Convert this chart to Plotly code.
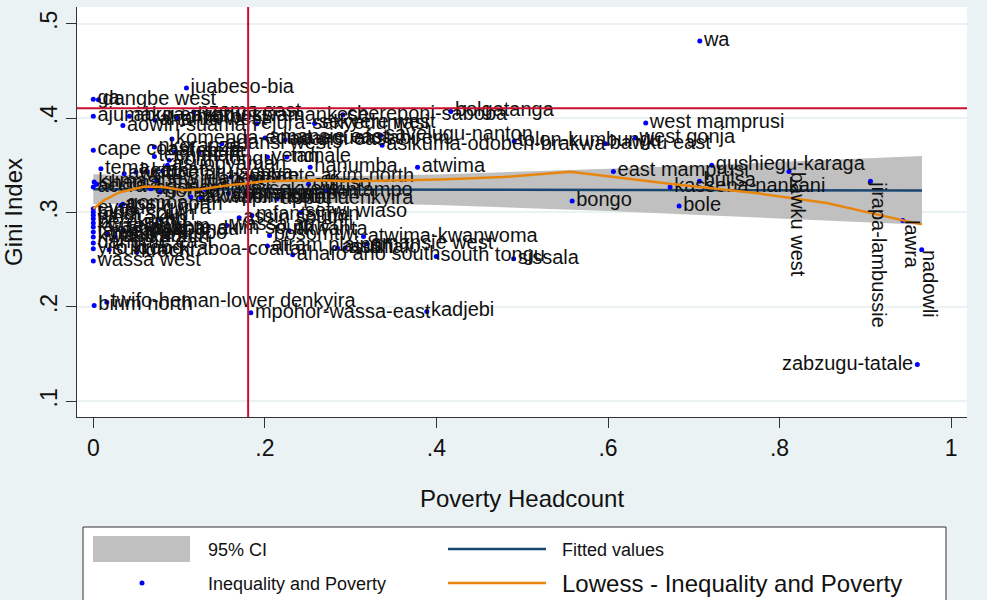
import plotly.graph_objects as go

# District-level poverty headcount vs Gini index
districts = [
    "wa", "juabeso-bia", "ga", "dangbe west", "ajumako-enyan-essiam",
    "abura-asebu-kwamankese", "ahanta west", "jomoro", "nzema east", "aowin-suaman",
    "ejura-sekyedumasi", "sekyere west", "chereponi-saboba", "bolgatanga", "west mamprusi",
    "west gonja", "bawku east", "tolon-kumbungu", "savelugu-nanton", "asikuma-odoben-brakwa",
    "komenda-edina-eguafo-abirem", "adansi west", "amansie east", "adansi east", "cape coast",
    "nkoranza", "techiman", "atebubu", "sene", "north tongu",
    "yendi", "tamale", "tema", "asuogyaman", "nanumba",
    "atwima", "awutu-efutu-senya", "ketu", "keta", "akatsi",
    "kwabre", "asante akim north", "accra", "kumasi", "shama ahanta east",
    "new juaben", "agona", "hohoe", "afigya-sekyere", "offinso",
    "kintampo", "ejisu-juaben", "east akim", "akwapim north", "akwapim south",
    "upper denkyira", "evalue-gwira", "gomoa", "assin north", "tano",
    "birim south", "west akim", "berekum", "kwaebibirem", "fanteakwa",
    "kwahu south", "dangme east", "yilo krobo", "wassa west", "sefwi wiaso",
    "mfantsiman", "assin south", "ho", "wassa amenfi", "asante akim south",
    "obuasi", "kpandu", "manya krobo", "jasikan", "nkwanta",
    "bosomtwi", "atwima-kwanwoma", "afram plains", "suhum-kraboa-coaltar", "krachi",
    "ahafo ano south", "asutifi", "asunafo", "amansie west", "south tongu",
    "sissala", "twifo-heman-lower denkyira", "birim north", "mpohor-wassa-east", "kadjebi",
    "zabzugu-tatale", "nadowli", "lawra", "jirapa-lambussie", "bawku west",
    "kassena-nankani", "builsa", "gushiegu-karaga", "east mamprusi", "bongo",
    "bole",
]
poverty = [
    0.707, 0.1086, 0.000, 0.006, 0.000,
    0.042, 0.072, 0.097, 0.117, 0.0345,
    0.1907, 0.258, 0.291, 0.4167, 0.644,
    0.632, 0.597, 0.4906, 0.3352, 0.3367,
    0.0917, 0.1497, 0.2003, 0.2237, 0.000,
    0.0712, 0.0712, 0.095, 0.1234, 0.0885,
    0.203, 0.2256, 0.0089, 0.0865, 0.2528,
    0.378, 0.036, 0.0497, 0.063, 0.0807,
    0.1604, 0.184, 0.000, 0.001, 0.004,
    0.0741, 0.0671, 0.078, 0.1304, 0.2509,
    0.2729, 0.1797, 0.1576, 0.1137, 0.1254,
    0.214, 0.000, 0.0345, 0.032, 0.000,
    0.000, 0.000, 0.000, 0.000, 0.000,
    0.000, 0.000, 0.000, 0.000, 0.2417,
    0.1849, 0.170, 0.0788, 0.1557, 0.0632,
    0.0352, 0.0888, 0.0165, 0.0255, 0.2282,
    0.2054, 0.315, 0.203, 0.0185, 0.0508,
    0.2325, 0.2846, 0.2936, 0.3189, 0.3998,
    0.490, 0.0158, 0.001, 0.1836, 0.3888,
    0.9606, 0.9657, 0.9436, 0.906, 0.811,
    0.6724, 0.7066, 0.7209, 0.6063, 0.5582,
    0.6829,
]
gini = [
    0.4816, 0.4318, 0.4198, 0.4195, 0.4018,
    0.4018, 0.3976, 0.4004, 0.4064, 0.392,
    0.394, 0.3943, 0.4036, 0.407, 0.3947,
    0.379, 0.3729, 0.3753, 0.3817, 0.3711,
    0.3778, 0.3729, 0.3788, 0.3771, 0.3658,
    0.3693, 0.3594, 0.364, 0.364, 0.3553,
    0.3587, 0.3587, 0.3464, 0.350, 0.348,
    0.348, 0.3411, 0.3427, 0.3433, 0.3438,
    0.3375, 0.3375, 0.327, 0.3322, 0.3298,
    0.334, 0.3252, 0.3216, 0.3242, 0.3298,
    0.3227, 0.320, 0.320, 0.3163, 0.3153,
    0.3146, 0.304, 0.3086, 0.3075, 0.3005,
    0.297, 0.2934, 0.2888, 0.2845, 0.2792,
    0.274, 0.2676, 0.2617, 0.2485, 0.300,
    0.2969, 0.2945, 0.2924, 0.2863, 0.2828,
    0.281, 0.281, 0.2775, 0.274, 0.281,
    0.2757, 0.2745, 0.2645, 0.2606, 0.258,
    0.2553, 0.2623, 0.2623, 0.267, 0.2535,
    0.251, 0.205, 0.2016, 0.1938, 0.1952,
    0.139, 0.2606, 0.2916, 0.333, 0.3435,
    0.327, 0.333, 0.3499, 0.3435, 0.3121,
    0.3068,
]

# Linear fit with 95% confidence band
ci_x = [0.0, 0.1, 0.2, 0.3, 0.4, 0.5, 0.6, 0.7, 0.8, 0.9, 0.966]
ci_lo = [0.3088, 0.3105, 0.3109, 0.3100, 0.3079, 0.3050, 0.3015, 0.2977, 0.2938, 0.2897, 0.2869]
ci_hi = [0.3404, 0.3385, 0.3377, 0.3385, 0.3403, 0.3430, 0.3462, 0.3497, 0.3534, 0.3571, 0.3597]
fit_y = [0.3246, 0.3245, 0.3243, 0.3242, 0.3241, 0.3240, 0.3238, 0.3237, 0.3236, 0.3234, 0.3233]

# Lowess smoother
lowess_x = [0.0, 0.0125, 0.031, 0.06, 0.082, 0.104, 0.126, 0.156, 0.181, 0.2, 0.258,
            0.302, 0.405, 0.478, 0.556, 0.625, 0.672, 0.777, 0.855, 0.944, 0.966]
lowess_y = [0.304, 0.313, 0.3215, 0.3276, 0.327, 0.3236, 0.3245, 0.3287, 0.331, 0.333, 0.334,
            0.333, 0.335, 0.3375, 0.3432, 0.3355, 0.3305, 0.320, 0.310, 0.2916, 0.2874]

# Reference lines
gini_ref = 0.4103
poverty_ref = 0.1805

x_ticks = [0, 0.2, 0.4, 0.6, 0.8, 1]
x_tick_text = ["0", ".2", ".4", ".6", ".8", "1"]
y_ticks = [0.1, 0.2, 0.3, 0.4, 0.5]
y_tick_text = [".1", ".2", ".3", ".4", ".5"]

vertical_labels = {"bawku west", "jirapa-lambussie", "lawra", "nadowli"}
left_labels = {"zabzugu-tatale"}

FONT = "Liberation Sans, Arial, sans-serif"
BG = "#EAF2F3"
BLUE = "#0000FF"
NAVY = "#1A476F"
ORANGE = "#E8850C"
GRAY = "#C0C0C0"
RED = "#C8102E"
TXT = "#111111"
LABEL_SIZE = 20

W, H = 987, 600
L, R, T, B = 77, 967, 7, 417

fig = go.Figure()

fig.add_trace(go.Scatter(x=ci_x, y=ci_lo, mode="lines", line=dict(width=0),
                         showlegend=False, hoverinfo="skip"))
fig.add_trace(go.Scatter(x=ci_x, y=ci_hi, mode="lines", line=dict(width=0),
                         fill="tonexty", fillcolor=GRAY, name="95% CI",
                         showlegend=False, hoverinfo="skip"))
fig.add_trace(go.Scatter(x=ci_x, y=fit_y, mode="lines", line=dict(color=NAVY, width=2.5),
                         name="Fitted values", showlegend=False))

point_text = ["" if d in vertical_labels else d for d in districts]
point_pos = ["middle left" if d in left_labels else "middle right" for d in districts]
fig.add_trace(go.Scatter(
    x=poverty, y=gini, mode="markers+text", text=point_text, textposition=point_pos,
    textfont=dict(family=FONT, size=LABEL_SIZE, color=TXT),
    marker=dict(color=BLUE, size=5, symbol="circle"),
    name="Inequality and Poverty", showlegend=False, cliponaxis=False,
))

fig.add_trace(go.Scatter(x=lowess_x, y=lowess_y, mode="lines",
                         line=dict(color=ORANGE, width=2.5),
                         name="Lowess - Inequality and Poverty", showlegend=False))

# Rotated labels for the high-poverty districts
for d, xv, yv in zip(districts, poverty, gini):
    if d in vertical_labels:
        fig.add_annotation(x=xv, y=yv, text=d, textangle=90, showarrow=False,
                           xanchor="left", yanchor="top", xshift=-4, yshift=2,
                           font=dict(family=FONT, size=LABEL_SIZE, color=TXT))


def px_x(v):
    return (v - L) / (R - L)


def px_y(v):
    return (B - v) / (B - T)


shapes = [
    # reference lines
    dict(type="line", xref="paper", yref="y", x0=0, x1=1, y0=gini_ref, y1=gini_ref,
         line=dict(color=RED, width=2)),
    dict(type="line", xref="x", yref="paper", x0=poverty_ref, x1=poverty_ref, y0=0, y1=1,
         line=dict(color=RED, width=2)),
    # legend block beneath the plot
    dict(type="rect", xref="paper", yref="paper", x0=px_x(83), x1=px_x(946),
         y0=px_y(610), y1=px_y(527), line=dict(color="#333333", width=1),
         fillcolor="white"),
    dict(type="rect", xref="paper", yref="paper", x0=px_x(93), x1=px_x(190),
         y0=px_y(562), y1=px_y(536), line=dict(width=0), fillcolor=GRAY),
    dict(type="line", xref="paper", yref="paper", x0=px_x(448), x1=px_x(546),
         y0=px_y(549), y1=px_y(549), line=dict(color=NAVY, width=2.5)),
    dict(type="line", xref="paper", yref="paper", x0=px_x(448), x1=px_x(546),
         y0=px_y(583), y1=px_y(583), line=dict(color=ORANGE, width=2.5)),
    dict(type="circle", xref="paper", yref="paper", x0=px_x(139.5), x1=px_x(144.5),
         y0=px_y(585.5), y1=px_y(580.5), line=dict(width=0), fillcolor=BLUE),
]

legend_items = [
    ("95% CI", 206, 550, 18),
    ("Fitted values", 560, 550, 18),
    ("Inequality and Poverty", 206, 584, 18),
    ("Lowess - Inequality and Poverty", 560, 583, 24),
]
for label, lx, ly, size in legend_items:
    fig.add_annotation(xref="paper", yref="paper", x=px_x(lx), y=px_y(ly), text=label,
                       showarrow=False, xanchor="left", yanchor="middle",
                       font=dict(family=FONT, size=size, color=TXT))

fig.update_layout(
    width=W, height=H,
    margin=dict(l=L, r=W - R, t=T, b=H - B),
    paper_bgcolor=BG, plot_bgcolor="white",
    font=dict(family=FONT, color=TXT),
    showlegend=False,
    shapes=shapes,
)
fig.update_xaxes(
    range=[-0.019, 1.0185], tickvals=x_ticks, ticktext=x_tick_text,
    ticks="outside", ticklen=10, tickcolor="#333333", automargin=False,
    tickfont=dict(family=FONT, size=23, color=TXT),
    showgrid=False, zeroline=False, showline=True, linecolor="#333333", linewidth=1,
    title=dict(text="Poverty Headcount", font=dict(family=FONT, size=24, color=TXT), standoff=30),
)
fig.update_yaxes(
    range=[0.0834, 0.5176], tickvals=y_ticks, ticktext=y_tick_text, tickangle=-90,
    ticks="outside", ticklen=10, tickcolor="#333333", automargin=False,
    tickfont=dict(family=FONT, size=23, color=TXT),
    showgrid=True, gridcolor=BG, gridwidth=2,
    zeroline=False, showline=True, linecolor="#333333", linewidth=1,
    title=dict(text="Gini Index", font=dict(family=FONT, size=24, color=TXT), standoff=16),
)

fig.write_html("out.html", config={"displayModeBar": False})
